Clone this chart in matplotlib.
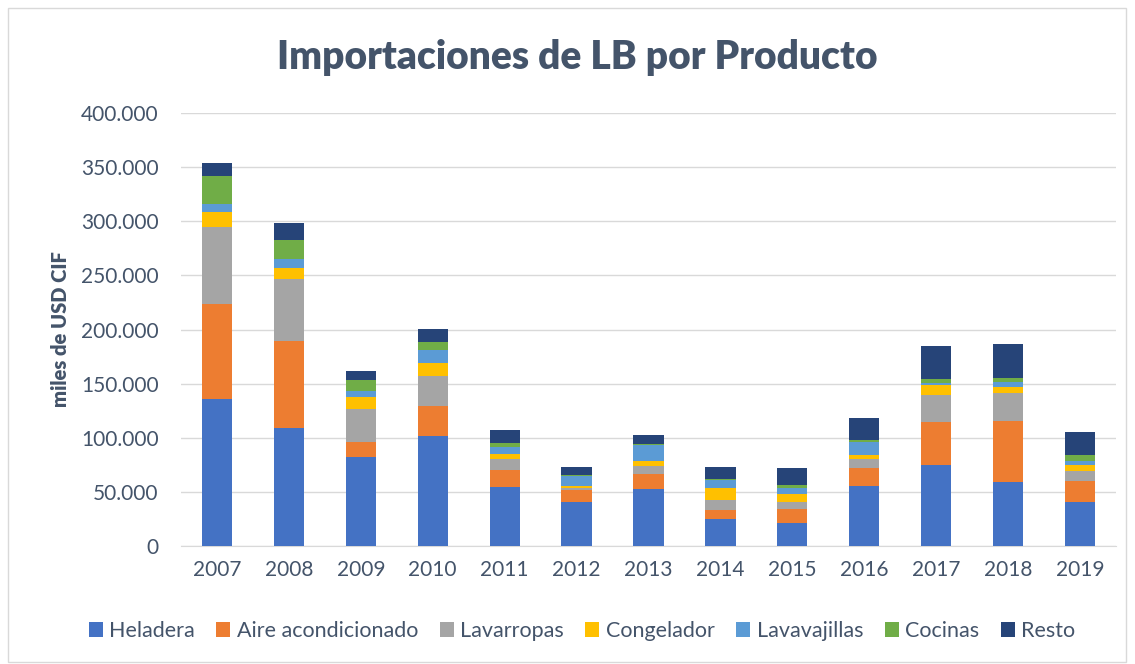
import matplotlib.pyplot as plt
import numpy as np

years = ['2007', '2008', '2009', '2010', '2011', '2012', '2013',
         '2014', '2015', '2016', '2017', '2018', '2019']

# miles de USD CIF
heladera = [135900, 109400, 82300, 102000, 54500, 40700, 52400, 24600, 21000, 55500, 74600, 59200, 40700]
aire = [87800, 80100, 13900, 27400, 16000, 10800, 14200, 8300, 12900, 16600, 40000, 56000, 19100]
lavarropas = [71200, 56700, 30500, 28000, 9900, 1800, 7400, 9600, 6800, 8000, 24600, 25900, 9200]
congelador = [13900, 10800, 11100, 12000, 4600, 1800, 4300, 10800, 7400, 3700, 9200, 5500, 5500]
lavavajillas = [7400, 8300, 5500, 11700, 6500, 9600, 15100, 7400, 5200, 12300, 1800, 4600, 3700]
cocinas = [25900, 17600, 10200, 7400, 3700, 900, 900, 900, 2800, 1800, 3700, 3700, 5500]
resto = [12000, 15700, 8300, 12000, 12000, 7100, 8000, 11100, 15700, 20000, 30500, 31400, 21200]

series = [
    ('Heladera', heladera, '#4472C4'),
    ('Aire acondicionado', aire, '#ED7D31'),
    ('Lavarropas', lavarropas, '#A5A5A5'),
    ('Congelador', congelador, '#FFC000'),
    ('Lavavajillas', lavavajillas, '#5B9BD5'),
    ('Cocinas', cocinas, '#70AD47'),
    ('Resto', resto, '#264478'),
]

plt.rcParams['font.family'] = ['Lato', 'DejaVu Sans']
text_color = '#44546A'

fig = plt.figure(figsize=(11.35, 6.64), dpi=100)
ax = fig.add_axes([181 / 1135, 1 - 546 / 664, 935 / 1135, 433 / 664])

x = np.arange(len(years))
bottom = np.zeros(len(years))
for name, vals, color in series:
    ax.bar(x, vals, 0.42, bottom=bottom, color=color, label=name, zorder=3)
    bottom += np.array(vals)

ax.set_xlim(-0.5, len(years) - 0.5)
ax.set_ylim(0, 400000)
ax.set_yticks(np.arange(0, 400001, 50000))
ax.set_yticklabels(['0' if v == 0 else f'{v:,}'.replace(',', '.') for v in range(0, 400001, 50000)])
ax.set_xticks(x)
ax.set_xticklabels(years)
ax.tick_params(axis='both', length=0, labelsize=15, colors=text_color)
ax.tick_params(axis='y', pad=16)
ax.tick_params(axis='x', pad=10)
ax.grid(axis='y', color='#D9D9D9', linewidth=1, zorder=0)
for s in ['top', 'right', 'left']:
    ax.spines[s].set_visible(False)
ax.spines['bottom'].set_color('#D9D9D9')

ax.set_ylabel('miles de USD CIF', fontsize=14.5, fontweight='heavy', color=text_color, labelpad=8)
fig.text(577 / 1135, 1 - 57 / 664, 'Importaciones de LB por Producto', ha='center', va='center',
         fontsize=28, fontweight='heavy', color=text_color)

fig.legend(loc='center', bbox_to_anchor=(582 / 1135, 1 - 631 / 664), ncol=7, frameon=False,
           fontsize=15.5, handlelength=0.65, handleheight=0.65, handletextpad=0.3, columnspacing=1.0,
           labelcolor=text_color)

fig.patches.append(plt.Rectangle((8 / 1135, 2 / 664), 1118 / 1135, 654 / 664, transform=fig.transFigure,
                                 fill=False, edgecolor='#D9D9D9', linewidth=1))

fig.savefig('out.png', dpi=100)
